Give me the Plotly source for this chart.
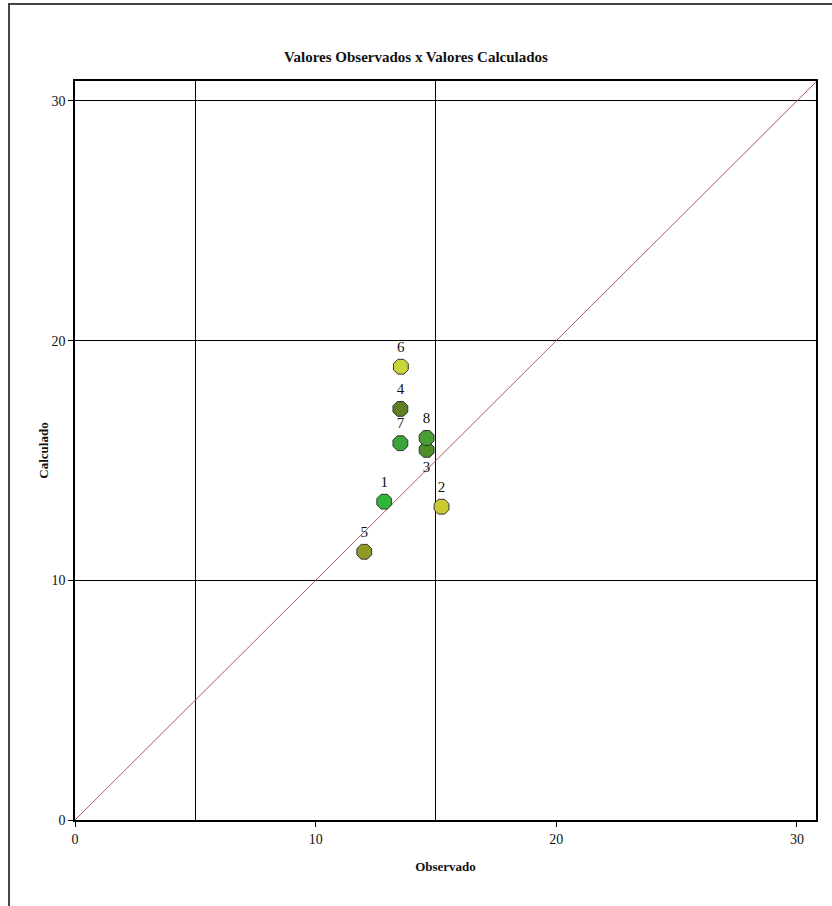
import plotly.graph_objects as go

labels = ["1", "2", "3", "4", "5", "6", "7", "8"]
observado = [12.85, 15.23, 14.61, 13.52, 12.02, 13.54, 13.52, 14.61]
calculado = [13.28, 13.07, 15.44, 17.15, 11.19, 18.91, 15.72, 15.94]
colors = ["#2fb53a", "#c9c930", "#4f8f2a", "#5f7f25", "#8f9a25", "#c8d43a", "#3aa33a", "#4a9e35"]
label_pos = ["top center", "top center", "bottom center", "top center",
             "top center", "top center", "top center", "top center"]

ref_line = [0, 30.8]
x_ticks = [0, 10, 20, 30]
y_ticks = [0, 10, 20, 30]
x_grid = [5, 15]

font_family = "Liberation Serif"

fig = go.Figure()
fig.add_trace(go.Scatter(
    x=ref_line, y=ref_line, mode="lines",
    line=dict(color="#b05a55", width=1),
    hoverinfo="skip", showlegend=False,
))
fig.add_trace(go.Scatter(
    x=observado, y=calculado, mode="markers+text",
    text=labels, textposition=label_pos,
    textfont=dict(family=font_family, size=15, color="#111"),
    marker=dict(symbol="octagon", size=16, color=colors,
                line=dict(color="#333", width=1)),
    showlegend=False,
))

fig.update_layout(
    width=832, height=906,
    margin=dict(l=75, r=16, t=81, b=86),
    paper_bgcolor="white", plot_bgcolor="white",
    font=dict(family=font_family, size=12, color="#111"),
    title=dict(text="<b>Valores Observados x Valores Calculados</b>",
               x=0.5, xanchor="center", y=1 - 57 / 906, yanchor="middle",
               font=dict(family=font_family, size=15, color="#111")),
    shapes=[dict(type="rect", xref="paper", yref="paper",
                 x0=(9 - 75) / 741, x1=1.2, y0=-0.3, y1=(820 - 4) / 739,
                 line=dict(color="#444", width=2), fillcolor="rgba(0,0,0,0)",
                 layer="below")],
)
fig.update_xaxes(
    range=[0, 30.79], tickmode="array", tickvals=x_ticks,
    showgrid=False, zeroline=False,
    minor=dict(tickmode="array", tickvals=x_grid, showgrid=True,
               gridcolor="black", gridwidth=1, ticks=""),
    ticks="outside", ticklen=5, tickcolor="black",
    showline=True, linecolor="black", linewidth=1.5, mirror=True,
    tickfont=dict(family=font_family, size=14, color="#111"),
    title=dict(text="<b>Observado</b>", standoff=16,
               font=dict(family=font_family, size=13)),
)
fig.update_yaxes(
    range=[0, 30.83], tickmode="array", tickvals=y_ticks,
    showgrid=True, gridcolor="black", gridwidth=1, zeroline=False,
    ticks="outside", ticklen=5, tickcolor="black",
    showline=True, linecolor="black", linewidth=1.5, mirror=True,
    tickfont=dict(family=font_family, size=14, color="#111"),
    title=dict(text="<b>Calculado</b>", standoff=0,
               font=dict(family=font_family, size=13)),
)

fig.write_html("out.html", config={"displayModeBar": False},
               post_script="document.body.style.margin='0';document.body.style.overflow='hidden';")
